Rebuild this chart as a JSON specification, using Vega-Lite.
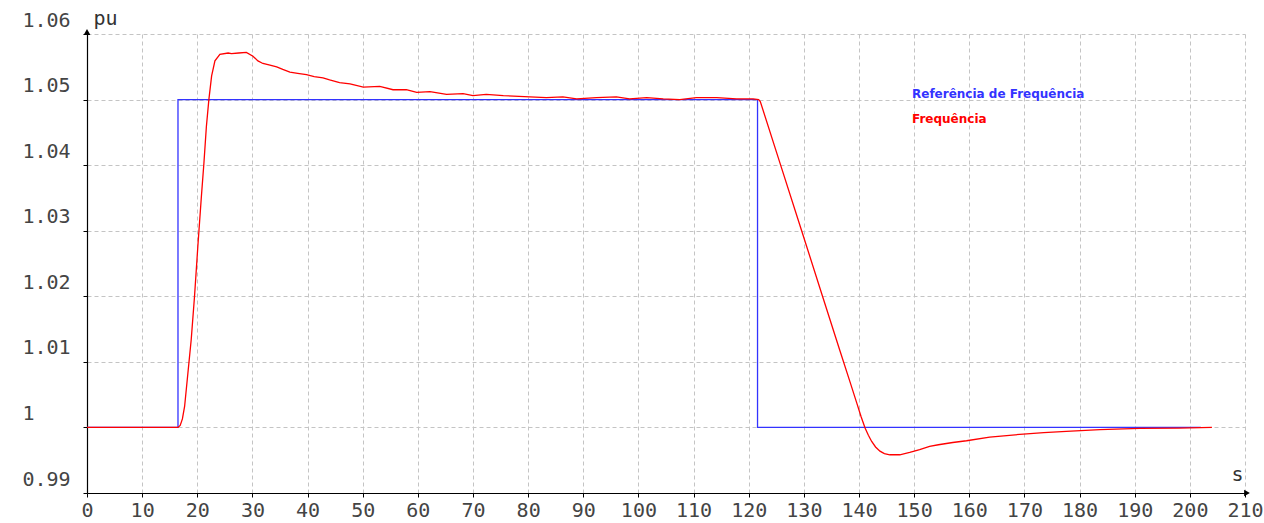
{
  "$schema": "https://vega.github.io/schema/vega-lite/v6.json",
  "autosize": {"type": "none"},
  "width": 1158,
  "height": 459,
  "padding": {"left": 87, "top": 34, "right": 19, "bottom": 30},
  "background": "white",
  "config": {
    "view": {"stroke": null},
    "axis": {
      "labelFont": "DejaVu Sans Mono",
      "labelFontSize": 20,
      "labelColor": "#444444",
      "titleFont": "DejaVu Sans Mono",
      "titleFontSize": 20,
      "titleFontWeight": "normal",
      "titleColor": "#333333",
      "domainColor": "#000000",
      "domainWidth": 1.2,
      "tickColor": "#000000",
      "tickSize": 4,
      "gridColor": "#c4c4c4",
      "gridDash": [4, 3],
      "gridWidth": 1
    }
  },
  "datasets": {
    "ref": [
      {"i": 0, "t": 0, "v": 1.0, "series": "Referência de Frequência"},
      {"i": 1, "t": 16.5, "v": 1.0, "series": "Referência de Frequência"},
      {"i": 2, "t": 16.5, "v": 1.05, "series": "Referência de Frequência"},
      {"i": 3, "t": 121.6, "v": 1.05, "series": "Referência de Frequência"},
      {"i": 4, "t": 121.6, "v": 1.0, "series": "Referência de Frequência"},
      {"i": 5, "t": 202, "v": 1.0, "series": "Referência de Frequência"}
    ],
    "freq": [
      {"t": 0, "v": 1.0, "series": "Frequência"},
      {"t": 16.5, "v": 1.0, "series": "Frequência"},
      {"t": 16.9, "v": 1.0003, "series": "Frequência"},
      {"t": 17.3, "v": 1.0013, "series": "Frequência"},
      {"t": 17.7, "v": 1.0032, "series": "Frequência"},
      {"t": 18.3, "v": 1.0083, "series": "Frequência"},
      {"t": 18.9, "v": 1.0134, "series": "Frequência"},
      {"t": 19.5, "v": 1.02, "series": "Frequência"},
      {"t": 20.1, "v": 1.0276, "series": "Frequência"},
      {"t": 20.75, "v": 1.0353, "series": "Frequência"},
      {"t": 21.2, "v": 1.0403, "series": "Frequência"},
      {"t": 21.65, "v": 1.0459, "series": "Frequência"},
      {"t": 22.1, "v": 1.05, "series": "Frequência"},
      {"t": 22.6, "v": 1.0536, "series": "Frequência"},
      {"t": 23.2, "v": 1.0559, "series": "Frequência"},
      {"t": 24.1, "v": 1.0569, "series": "Frequência"},
      {"t": 25.6, "v": 1.0571, "series": "Frequência"},
      {"t": 26.2, "v": 1.057, "series": "Frequência"},
      {"t": 27.5, "v": 1.0571, "series": "Frequência"},
      {"t": 28.9, "v": 1.0572, "series": "Frequência"},
      {"t": 30.1, "v": 1.0566, "series": "Frequência"},
      {"t": 31.0, "v": 1.0559, "series": "Frequência"},
      {"t": 31.9, "v": 1.0555, "series": "Frequência"},
      {"t": 33.0, "v": 1.0553, "series": "Frequência"},
      {"t": 34.4, "v": 1.055, "series": "Frequência"},
      {"t": 35.5, "v": 1.0546, "series": "Frequência"},
      {"t": 36.8, "v": 1.0542, "series": "Frequência"},
      {"t": 38.2, "v": 1.054, "series": "Frequência"},
      {"t": 39.8, "v": 1.0538, "series": "Frequência"},
      {"t": 41.2, "v": 1.0535, "series": "Frequência"},
      {"t": 42.8, "v": 1.0533, "series": "Frequência"},
      {"t": 44.0, "v": 1.053, "series": "Frequência"},
      {"t": 45.8, "v": 1.0526, "series": "Frequência"},
      {"t": 47.7, "v": 1.0524, "series": "Frequência"},
      {"t": 50.1, "v": 1.0519, "series": "Frequência"},
      {"t": 53.1, "v": 1.052, "series": "Frequência"},
      {"t": 55.5, "v": 1.0515, "series": "Frequência"},
      {"t": 57.9, "v": 1.0515, "series": "Frequência"},
      {"t": 59.8, "v": 1.0511, "series": "Frequência"},
      {"t": 62.2, "v": 1.0512, "series": "Frequência"},
      {"t": 65.2, "v": 1.0508, "series": "Frequência"},
      {"t": 68.2, "v": 1.0509, "series": "Frequência"},
      {"t": 70.0, "v": 1.0506, "series": "Frequência"},
      {"t": 72.4, "v": 1.0508, "series": "Frequência"},
      {"t": 75.5, "v": 1.0506, "series": "Frequência"},
      {"t": 80.3, "v": 1.0504, "series": "Frequência"},
      {"t": 83.3, "v": 1.0503, "series": "Frequência"},
      {"t": 86.3, "v": 1.0504, "series": "Frequência"},
      {"t": 88.8, "v": 1.0501, "series": "Frequência"},
      {"t": 92.4, "v": 1.0503, "series": "Frequência"},
      {"t": 96.0, "v": 1.0504, "series": "Frequência"},
      {"t": 98.4, "v": 1.0501, "series": "Frequência"},
      {"t": 101.5, "v": 1.0503, "series": "Frequência"},
      {"t": 104.5, "v": 1.0501, "series": "Frequência"},
      {"t": 107.5, "v": 1.05, "series": "Frequência"},
      {"t": 110.5, "v": 1.0503, "series": "Frequência"},
      {"t": 114.2, "v": 1.0503, "series": "Frequência"},
      {"t": 117.8, "v": 1.0501, "series": "Frequência"},
      {"t": 120.8, "v": 1.0501, "series": "Frequência"},
      {"t": 121.8, "v": 1.05, "series": "Frequência"},
      {"t": 122.1, "v": 1.0497, "series": "Frequência"},
      {"t": 125.6, "v": 1.0405, "series": "Frequência"},
      {"t": 129.6, "v": 1.03, "series": "Frequência"},
      {"t": 133.5, "v": 1.0197, "series": "Frequência"},
      {"t": 136.5, "v": 1.0118, "series": "Frequência"},
      {"t": 138.5, "v": 1.0066, "series": "Frequência"},
      {"t": 139.6, "v": 1.0037, "series": "Frequência"},
      {"t": 140.4, "v": 1.0016, "series": "Frequência"},
      {"t": 141.1, "v": 0.9999, "series": "Frequência"},
      {"t": 141.7, "v": 0.9988, "series": "Frequência"},
      {"t": 142.3, "v": 0.99786, "series": "Frequência"},
      {"t": 143.0, "v": 0.99702, "series": "Frequência"},
      {"t": 143.8, "v": 0.99638, "series": "Frequência"},
      {"t": 144.6, "v": 0.99600, "series": "Frequência"},
      {"t": 145.6, "v": 0.99583, "series": "Frequência"},
      {"t": 147.4, "v": 0.99583, "series": "Frequência"},
      {"t": 149.2, "v": 0.99618, "series": "Frequência"},
      {"t": 151.0, "v": 0.9966, "series": "Frequência"},
      {"t": 152.8, "v": 0.9971, "series": "Frequência"},
      {"t": 154.4, "v": 0.99736, "series": "Frequência"},
      {"t": 157.0, "v": 0.9977, "series": "Frequência"},
      {"t": 159.5, "v": 0.99797, "series": "Frequência"},
      {"t": 163.7, "v": 0.99853, "series": "Frequência"},
      {"t": 169.8, "v": 0.99899, "series": "Frequência"},
      {"t": 173.5, "v": 0.9992, "series": "Frequência"},
      {"t": 177.6, "v": 0.99939, "series": "Frequência"},
      {"t": 183.7, "v": 0.99965, "series": "Frequência"},
      {"t": 190.9, "v": 0.99985, "series": "Frequência"},
      {"t": 198.0, "v": 0.9999, "series": "Frequência"},
      {"t": 204.0, "v": 1.0, "series": "Frequência"}
    ],
    "yarrow": [{"t": 0, "v": 1.06}],
    "xarrow": [{"t": 210, "v": 0.99}]
  },
  "encoding": {
    "x": {
      "field": "t",
      "type": "quantitative",
      "scale": {"domain": [0, 210], "nice": false, "zero": false},
      "axis": {
        "values": [0, 10, 20, 30, 40, 50, 60, 70, 80, 90, 100, 110, 120, 130, 140, 150, 160, 170, 180, 190, 200, 210],
        "labelPadding": 3,
        "labelFlush": false,
        "labelOverlap": false,
        "title": "s",
        "titleX": 1150,
        "titleY": -13,
        "titleAlign": "center",
        "titleBaseline": "alphabetic",
        "titleAnchor": null
      }
    },
    "y": {
      "field": "v",
      "type": "quantitative",
      "scale": {"domain": [0.99, 1.06], "nice": false, "zero": false},
      "axis": {
        "values": [0.99, 1.0, 1.01, 1.02, 1.03, 1.04, 1.05, 1.06],
        "format": "~g",
        "labelAlign": "left",
        "labelBaseline": "alphabetic",
        "labelPadding": 61,
        "labelOffset": -8,
        "labelFlush": false,
        "labelOverlap": false,
        "title": "pu",
        "titleAngle": 0,
        "titleX": 6,
        "titleY": -10,
        "titleAlign": "left",
        "titleBaseline": "alphabetic",
        "titleAnchor": null
      }
    }
  },
  "layer": [
    {
      "data": {"name": "ref"},
      "mark": {"type": "line", "strokeWidth": 1.3, "clip": false},
      "encoding": {
        "order": {"field": "i", "type": "quantitative"},
        "color": {
          "field": "series",
          "type": "nominal",
          "scale": {"domain": ["Referência de Frequência", "Frequência"], "range": ["#3333ff", "#ff0000"]},
          "legend": {
            "title": null,
            "orient": "none",
            "legendX": 813,
            "legendY": 54,
            "padding": 0,
            "symbolSize": 0,
            "symbolStrokeWidth": 0,
            "symbolOpacity": 0,
            "labelOffset": 0,
            "labelFont": "DejaVu Sans",
            "labelFontWeight": "bold",
            "labelFontSize": 12,
            "rowPadding": 13,
            "labelLimit": 400,
            "encode": {
              "labels": {"update": {"fill": {"scale": "color", "field": "value"}}}
            }
          }
        }
      }
    },
    {
      "data": {"name": "freq"},
      "mark": {"type": "line", "strokeWidth": 1.3, "clip": false},
      "encoding": {
        "color": {"field": "series", "type": "nominal"}
      }
    },
    {
      "data": {"name": "yarrow"},
      "mark": {"type": "point", "shape": "triangle-up", "filled": true, "color": "#000000", "size": 45, "opacity": 1, "yOffset": -2}
    },
    {
      "data": {"name": "xarrow"},
      "mark": {"type": "point", "shape": "triangle-right", "filled": true, "color": "#000000", "size": 45, "opacity": 1, "xOffset": 2}
    }
  ]
}
